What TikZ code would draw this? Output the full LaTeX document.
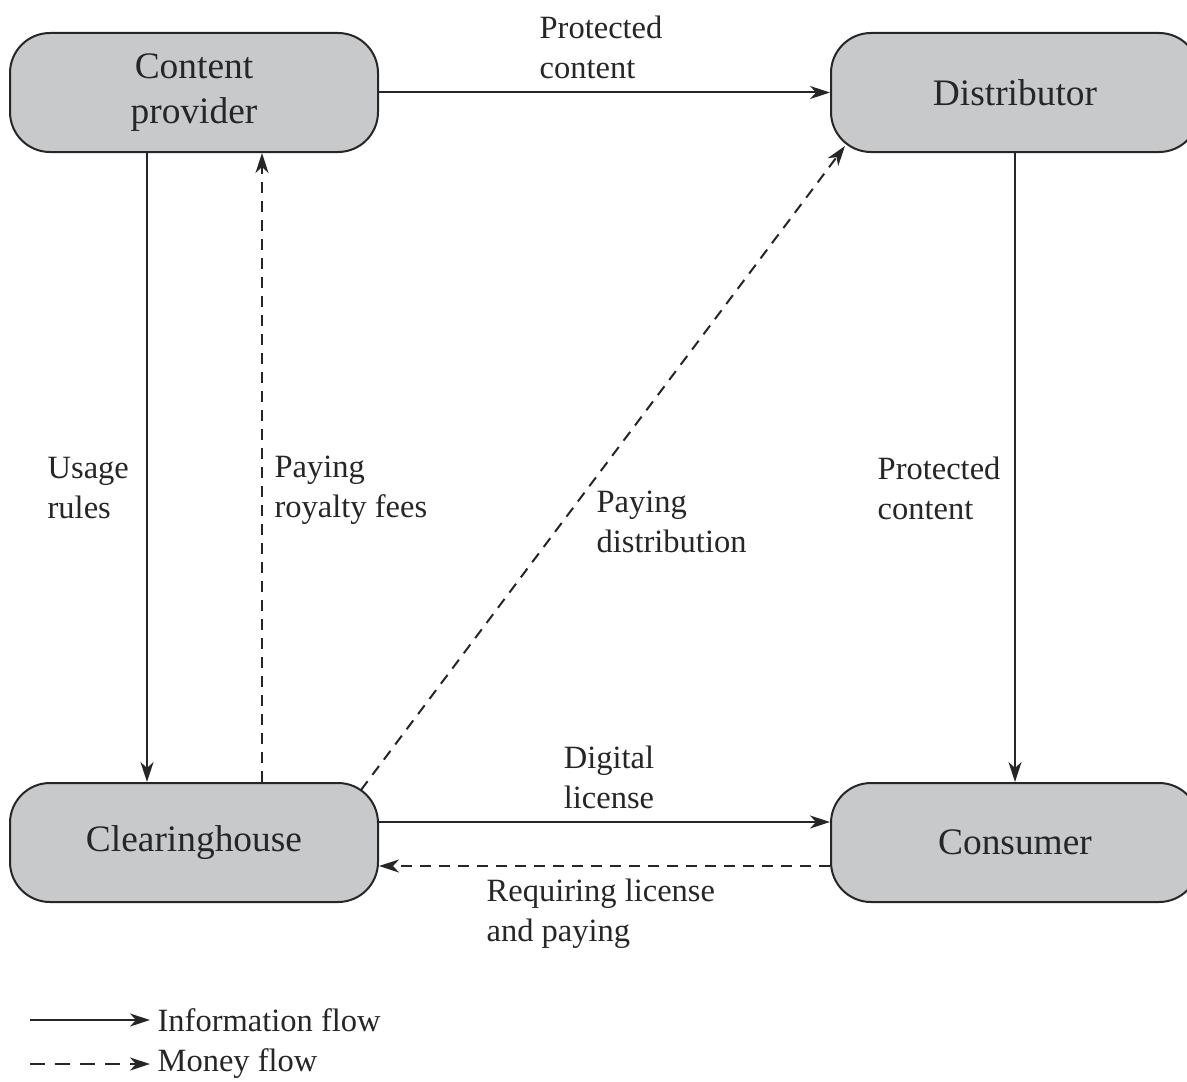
\documentclass[tikz,border=0pt]{standalone}
\usepackage{fontspec}
\setmainfont{Liberation Serif}
\usepackage{tikz}
\usetikzlibrary{arrows.meta, positioning, calc}
\definecolor{boxfill}{HTML}{C8C9CB}
\colorlet{ink}{black!85}

\begin{document}
\begin{tikzpicture}[x=0.5pt, y=-0.5pt, line width=1pt, ink,
    every node/.style={font=\fontsize{16.25}{20}\selectfont, text=ink},
    party/.style={draw, fill=boxfill, rounded corners=20pt, minimum width=184pt, minimum height=59.5pt,
      align=center, font=\fontsize{18.7}{22.5}\selectfont},
    info/.style={-{Stealth[length=10pt, width=6.5pt, inset=3pt]}},
    money/.style={info, dash pattern=on 5.5pt off 4pt}]
  \useasboundingbox (0,0) rectangle (1187,1081);

  \node[party] (prov) at (194,92.5) {Content\\provider};
  \node[party] (dist) at (1015,92.5) {Distributor};
  \node[party] (clear) at (194,842.5) {Clearinghouse};
  \node[party] (cons) at (1015,842.5) {Consumer};

  % information flow
  \draw[info] (prov.east) -- (dist.west);
  \node[align=left, anchor=west] (lblprot) at (532,47) {Protected\\content};
  \draw[info] ([xshift=-23.5pt]prov.south) -- ([xshift=-23.5pt]clear.north);
  \node[align=left, anchor=west] (lblusage) at (40,488) {Usage\\rules};
  \draw[info] (dist.south) -- (cons.north);
  \node[align=left, anchor=west] (lblprot2) at (870,488) {Protected\\content};
  \draw[info] ([yshift=10.25pt]clear.east) -- ([yshift=10.25pt]cons.west);
  \node[align=center] (lbllic) at (609,777) {Digital\\license};

  % money flow
  \draw[money] ([xshift=34pt]clear.north) -- ([xshift=34pt]prov.south);
  \node[align=left, anchor=west] (lblroyal) at (267,490) {Paying\\royalty fees};
  \draw[money] ([xshift=-9pt, yshift=-4pt]clear.north east) -- ([xshift=7.5pt, yshift=3.5pt]dist.south west);
  \node[align=left, anchor=west] (lbldistr) at (589,522) {Paying\\distribution};
  \draw[money] ([yshift=-11.75pt]cons.west) -- ([yshift=-11.75pt]clear.east);
  \node[align=left, anchor=west] (lblreq) at (479,914) {Requiring license\\and paying};

  % legend
  \coordinate (infostart) at (30,1020);
  \node[anchor=west] (infotext) at (150,1020) {Information flow};
  \draw[info] (infostart) -- (infotext.west);
  \coordinate (moneystart) at (30,1064);
  \node[anchor=west] (moneytext) at (150,1064) {Money flow};
  \draw[money, dash pattern=on 7.5pt off 5pt] (moneystart) -- (moneytext.west);
\end{tikzpicture}
\end{document}
